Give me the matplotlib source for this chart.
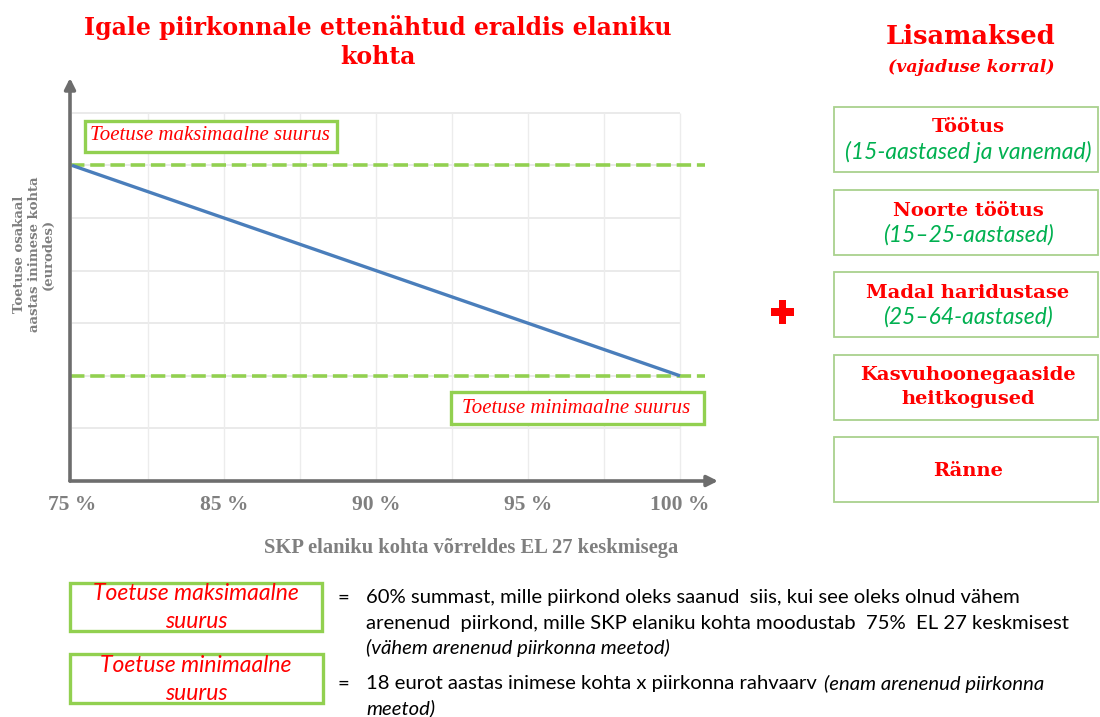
import matplotlib
matplotlib.use("Agg")
import matplotlib.pyplot as plt
from matplotlib.patches import Rectangle

# ---------------- data ----------------
categories = ['75 %', '85 %', '90 %', '95 %', '100 %']
support = [6, 5, 4, 3, 2]
max_level = 6
min_level = 2
title_lines = ["Igale piirkonnale ettenähtud eraldis elaniku", "kohta"]
xlabel = "SKP elaniku kohta võrreldes EL 27 keskmisega"
ylabel = "Toetuse osakaal\naastas inimese kohta\n(eurodes)"
max_label = "Toetuse maksimaalne suurus"
min_label = "Toetuse minimaalne suurus"
extra_title = "Lisamaksed"
extra_sub = "(vajaduse korral)"
extra_items = [(["Töötus"], "(15-aastased ja vanemad)"),
               (["Noorte töötus"], "(15–25-aastased)"),
               (["Madal haridustase"], "(25–64-aastased)"),
               (["Kasvuhoonegaaside", "heitkogused"], None),
               (["Ränne"], None)]
legend_max = ["Toetuse maksimaalne", "suurus"]
legend_min = ["Toetuse minimaalne", "suurus"]
def_max = ["60% summast, mille piirkond oleks saanud  siis, kui see oleks olnud vähem",
           "arenenud  piirkond, mille SKP elaniku kohta moodustab  75%  EL 27 keskmisest"]
def_max_it = "(vähem arenenud piirkonna meetod)"
def_min = "18 eurot aastas inimese kohta x piirkonna rahvaarv "
def_min_it = ["(enam arenenud piirkonna", "meetod)"]

W, H = 1100, 717
fig = plt.figure(figsize=(W / 100, H / 100), dpi=100)
fig.patch.set_facecolor('white')

def fx(x):
    return x / W

def fy(y):
    return 1 - y / H

def fbox(x0, y0, x1, y1, ec, lw, fc='white', z=3):
    r = Rectangle((fx(x0), fy(y1)), fx(x1) - fx(x0), fy(y0) - fy(y1),
                  transform=fig.transFigure, facecolor=fc, edgecolor=ec,
                  linewidth=lw, zorder=z)
    fig.add_artist(r)
    return r

RED = '#FF0000'
GRAY = '#7f7f7f'
GREEN = '#92D050'
SERIF = 'DejaVu Serif'
TSERIF = 'Liberation Serif'

# ---------------- chart axes ----------------
ax_l, ax_r, ax_t, ax_b = 70, 718, 78, 481
ax = fig.add_axes([fx(ax_l), fy(ax_b), fx(ax_r) - fx(ax_l), fy(ax_t) - fy(ax_b)])
xmin = -2 / 152
xmax = xmin + (ax_r - ax_l) / 152
ymax = (ax_b - ax_t) / 52.6
ax.set_xlim(xmin, xmax)
ax.set_ylim(0, ymax)
for s in ax.spines.values():
    s.set_visible(False)
ax.set_xticks([])
ax.set_yticks([])
ax.patch.set_alpha(0)

xs = list(range(len(categories)))
# grid
for gy in range(1, 8):
    ax.hlines(gy, 0, xs[-1], color='#e6e6e6', lw=1.2, zorder=1)
for i in range(1, 2 * (len(categories) - 1) + 1):
    ax.vlines(i / 2, 0, 7, color='#ececec', lw=1.0, zorder=1)

# limits (dashed)
ax.hlines([max_level, min_level], xmin, 4.165, color=GREEN, lw=2.6,
          linestyles=[(0, (4, 1.6))], zorder=3)
# support line
ax.plot(xs, support, color='#4a7ebb', lw=2.4, zorder=4, solid_capstyle='butt')

# axis arrows
arrow_kw = dict(arrowstyle='-|>', lw=2.6, color='#6d6d6d', mutation_scale=16,
                shrinkA=0, shrinkB=0)
ax.annotate('', xy=(0, 1), xytext=(0, 0), xycoords='axes fraction',
            arrowprops=arrow_kw, annotation_clip=False)
ax.annotate('', xy=(1, 0), xytext=(0, 0), xycoords='axes fraction',
            arrowprops=arrow_kw, annotation_clip=False)

# tick labels
for i, c in enumerate(categories):
    ax.text(i, -0.45, c, ha='center', va='center', fontsize=15.5,
            fontfamily=TSERIF, fontweight='bold', color=GRAY)
fig.text(fx(471), fy(548), xlabel, ha='center', va='center', fontsize=14.8,
         fontfamily=TSERIF, fontweight='bold', color=GRAY)
fig.text(fx(34), fy(254), ylabel, ha='center', va='center', rotation=90,
         fontsize=9.5, fontfamily=SERIF, fontweight='bold', color=GRAY,
         multialignment='center', linespacing=1.15)

# title
fig.text(fx(378), fy(28), title_lines[0], ha='center', va='center', fontsize=17,
         fontfamily=SERIF, fontweight='bold', color=RED)
fig.text(fx(378), fy(57), title_lines[1], ha='center', va='center', fontsize=17,
         fontfamily=SERIF, fontweight='bold', color=RED)

# labelled boxes on chart
fbox(85, 121, 337, 152, GREEN, 2.4)
fig.text(fx(210), fy(136), max_label, ha='center', va='center', fontsize=15,
         fontfamily=TSERIF, style='italic', color=RED, zorder=5)
fbox(451, 392, 704, 424, GREEN, 2.4)
fig.text(fx(576), fy(408), min_label, ha='center', va='center', fontsize=15,
         fontfamily=TSERIF, style='italic', color=RED, zorder=5)

# ---------------- right panel ----------------
cx = 968
fig.text(fx(971), fy(36), extra_title, ha='center', va='center', fontsize=18.5,
         fontfamily=SERIF, fontweight='bold', color=RED)
fig.text(fx(971), fy(67), extra_sub, ha='center', va='center', fontsize=12.5,
         fontfamily=SERIF, fontweight='bold', style='italic', color=RED)
box_tops = [107, 190, 272, 355, 437]
box_h = 65
for (heads, sub), top in zip(extra_items, box_tops):
    fbox(834, top, 1098, top + box_h, '#a9d18e', 1.3)
    mid = top + box_h / 2
    if sub:
        fig.text(fx(cx), fy(mid - 12), heads[0], ha='center', va='center',
                 fontsize=14, fontfamily=SERIF, fontweight='bold', color=RED, zorder=5)
        fig.text(fx(cx), fy(mid + 12), sub, ha='center', va='center',
                 fontsize=16.5, fontfamily='Lato', style='italic', color='#00B050', zorder=5)
    elif len(heads) == 2:
        fig.text(fx(cx), fy(mid - 12), heads[0], ha='center', va='center',
                 fontsize=14, fontfamily=SERIF, fontweight='bold', color=RED, zorder=5)
        fig.text(fx(cx), fy(mid + 12), heads[1], ha='center', va='center',
                 fontsize=14, fontfamily=SERIF, fontweight='bold', color=RED, zorder=5)
    else:
        fig.text(fx(cx), fy(mid + 2), heads[0], ha='center', va='center',
                 fontsize=14, fontfamily=SERIF, fontweight='bold', color=RED, zorder=5)

# red plus
fbox(771, 308, 794, 316, 'none', 0, fc=RED)
fbox(778.5, 300, 786.5, 324, 'none', 0, fc=RED)

# ---------------- bottom legend ----------------
SANS = 'Lato'
fbox(70, 583, 322, 631, GREEN, 2.4)
fig.text(fx(196), fy(594), legend_max[0], ha='center', va='center',
         fontsize=16.5, fontfamily=SANS, style='italic', color=RED, zorder=5)
fig.text(fx(196), fy(621), legend_max[1], ha='center', va='center',
         fontsize=16.5, fontfamily=SANS, style='italic', color=RED, zorder=5)
fbox(70, 654, 323, 703, GREEN, 2.4)
fig.text(fx(196), fy(666), legend_min[0], ha='center', va='center',
         fontsize=16.5, fontfamily=SANS, style='italic', color=RED, zorder=5)
fig.text(fx(196), fy(694), legend_min[1], ha='center', va='center',
         fontsize=16.5, fontfamily=SANS, style='italic', color=RED, zorder=5)

fs = 14.6
tx = 366
fig.text(fx(343), fy(598), "=", ha='center', va='center', fontsize=fs, fontfamily=SANS)
fig.text(fx(343), fy(684), "=", ha='center', va='center', fontsize=fs, fontfamily=SANS)
fig.text(fx(tx), fy(598), def_max[0], ha='left', va='center', fontsize=fs, fontfamily=SANS)
fig.text(fx(tx), fy(623), def_max[1], ha='left', va='center', fontsize=fs, fontfamily=SANS)
fig.text(fx(tx), fy(648), def_max_it, ha='left', va='center', fontsize=fs,
         fontfamily=SANS, style='italic')
t1 = fig.text(fx(tx), fy(684), def_min, ha='left', va='center', fontsize=fs, fontfamily=SANS)
fig.canvas.draw()
bb = t1.get_window_extent(renderer=fig.canvas.get_renderer())
fig.text(bb.x1 / W + 0.002, fy(684), def_min_it[0],
         ha='left', va='center', fontsize=fs, fontfamily=SANS, style='italic')
fig.text(fx(tx), fy(708), def_min_it[1],
         ha='left', va='center', fontsize=fs, fontfamily=SANS, style='italic')

fig.savefig('out.png', dpi=100, facecolor='white')
